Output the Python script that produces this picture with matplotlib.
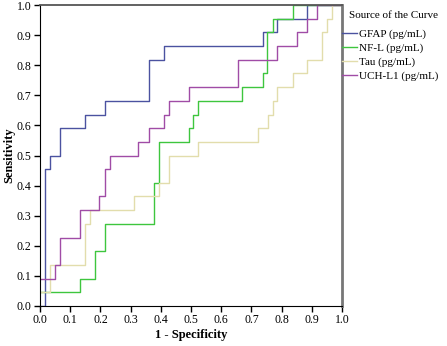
import matplotlib
matplotlib.use("Agg")
import matplotlib.pyplot as plt
from matplotlib.lines import Line2D

# ROC curves (1 - specificity, sensitivity)
gfap_x = [0.0, 0.018, 0.033, 0.066, 0.149, 0.214, 0.360, 0.410, 0.737, 0.786, 0.883, 1.0]
gfap_y = [0.0, 0.455, 0.500, 0.591, 0.636, 0.682, 0.818, 0.864, 0.909, 0.955, 1.000, 1.0]

nfl_x = [0.0, 0.132, 0.182, 0.214, 0.376, 0.394, 0.493, 0.508, 0.524, 0.670, 0.737, 0.753, 0.770, 0.837, 1.0]
nfl_y = [0.045, 0.091, 0.182, 0.273, 0.409, 0.545, 0.591, 0.636, 0.682, 0.727, 0.773, 0.909, 0.955, 1.000, 1.0]

tau_x = [0.0, 0.033, 0.149, 0.166, 0.312, 0.394, 0.428, 0.524, 0.721, 0.754, 0.770, 0.786, 0.837, 0.883, 0.933, 0.949, 0.967, 1.0]
tau_y = [0.045, 0.136, 0.273, 0.318, 0.364, 0.409, 0.500, 0.545, 0.591, 0.636, 0.682, 0.727, 0.773, 0.818, 0.909, 0.955, 1.000, 1.0]

uch_x = [0.0, 0.050, 0.066, 0.132, 0.197, 0.214, 0.231, 0.326, 0.360, 0.410, 0.427, 0.493, 0.657, 0.786, 0.850, 0.883, 0.916, 1.0]
uch_y = [0.091, 0.136, 0.227, 0.318, 0.364, 0.455, 0.500, 0.545, 0.591, 0.636, 0.682, 0.727, 0.818, 0.864, 0.909, 0.955, 1.000, 1.0]

labels = ["GFAP (pg/mL)", "NF-L (pg/mL)", "Tau (pg/mL)", "UCH-L1 (pg/mL)"]
farben = ["#4b52a0", "#3ec63e", "#e2ddac", "#a04ca6"]
ticks = [i / 10 for i in range(11)]

plt.rcParams['font.family'] = ['Liberation Serif', 'DejaVu Serif']

fig = plt.figure(figsize=(4.47, 3.46), dpi=100)
ax = fig.add_axes([40 / 447, 40 / 346, 302 / 447, 301 / 346])

for xs, ys, farbe in zip([gfap_x, nfl_x, tau_x, uch_x], [gfap_y, nfl_y, tau_y, uch_y], farben):
    ax.step(xs, ys, where='post', color=farbe, lw=1.0)

ax.set_xlim(0, 1)
ax.set_ylim(0, 1)
ax.set_xticks(ticks)
ax.set_yticks(ticks)
ax.set_xticklabels(["%.1f" % t for t in ticks])
ax.set_yticklabels(["%.1f" % t for t in ticks])
ax.tick_params(direction='out', length=4, width=1, labelsize=8.5, pad=2, colors='black')

ax.spines['left'].set_color('black')
ax.spines['bottom'].set_color('black')
ax.spines['top'].set_color('#555555')
ax.spines['top'].set_linewidth(1.3)
ax.spines['right'].set_color('#777777')
ax.spines['right'].set_linewidth(2)

ax.set_xlabel("1 - Specificity", fontsize=9, fontweight='bold', labelpad=2)
ax.set_ylabel("Sensitivity", fontsize=9, fontweight='bold', labelpad=1)

# Legende rechts neben dem Diagramm, Titel separat
fig.text(349 / 447, 1 - 15 / 346, "Source of the Curve", fontsize=8, va='center', ha='left')
handles = [Line2D([], [], color=f, lw=1.0) for f in farben]
ax.legend(handles, labels, loc='upper left', bbox_to_anchor=(1.0, 0.92),
          frameon=False, fontsize=8, handlelength=1.35, handletextpad=0.15,
          labelspacing=0.35, borderaxespad=0.0, borderpad=0.0)

fig.savefig("out.png", dpi=100)
